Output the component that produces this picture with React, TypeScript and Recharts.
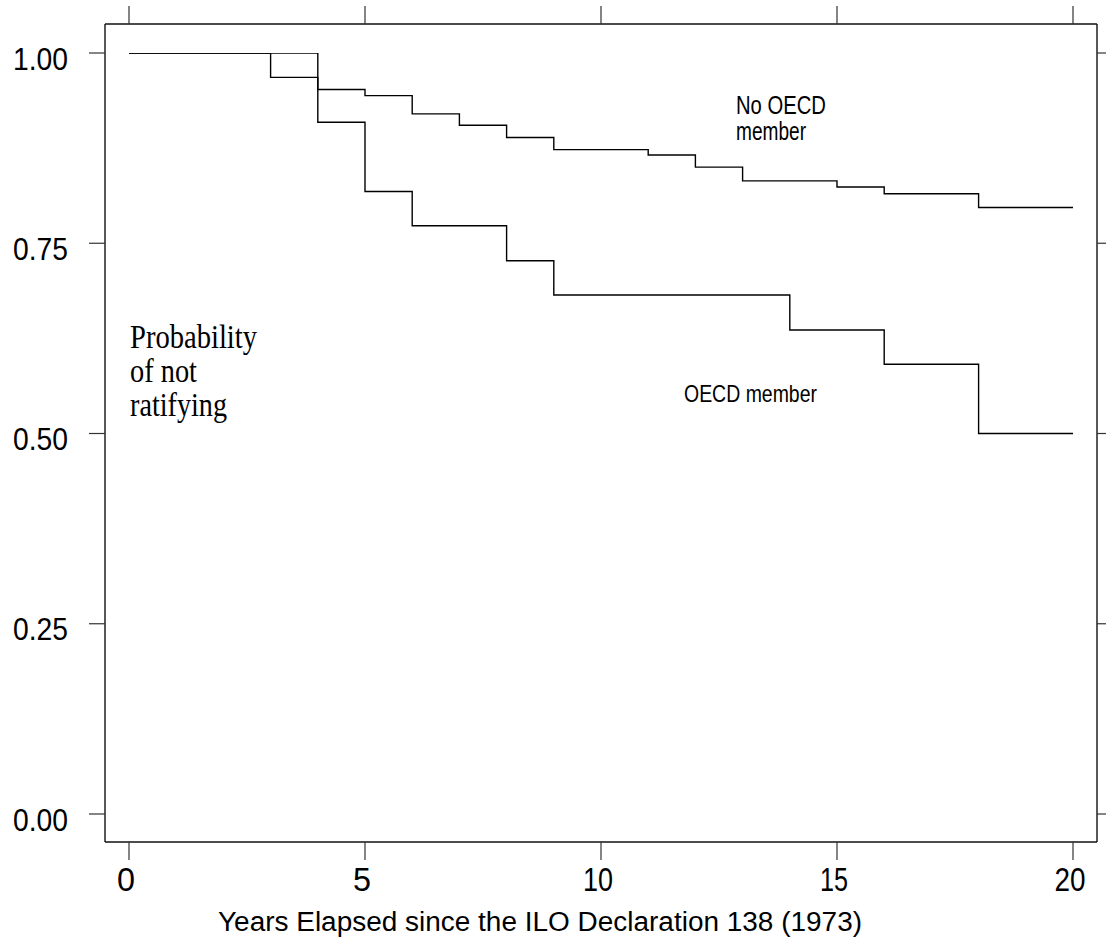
import React from 'react'
import { ComposedChart, Line, XAxis, YAxis, Customized } from 'recharts'

// Kaplan-Meier style survival steps
const noOecdYears = [0, 4, 5, 6, 7, 8, 9, 11, 12, 13, 15, 16, 18, 20]
const noOecdValues = [1, 0.952, 0.944, 0.92, 0.905, 0.889, 0.873, 0.866, 0.85, 0.832, 0.824, 0.815, 0.797, 0.797]

const oecdYears = [0, 3, 4, 5, 6, 8, 9, 14, 16, 18, 20]
const oecdValues = [1, 0.968, 0.909, 0.818, 0.773, 0.727, 0.682, 0.636, 0.591, 0.5, 0.5]

const xTicks = [0, 5, 10, 15, 20]
const yTicks = [0, 0.25, 0.5, 0.75, 1]
const yTickLabels = ['0.00', '0.25', '0.50', '0.75', '1.00']

const xTitle = 'Years Elapsed since the ILO Declaration 138 (1973)'
const yNote = ['Probability', 'of not', 'ratifying']

const noOecdData = noOecdYears.map((x, i) => ({ x, v: noOecdValues[i] }))
const oecdData = oecdYears.map((x, i) => ({ x, v: oecdValues[i] }))

const SANS = '"Liberation Sans", Arial, sans-serif'
const SERIF = '"Liberation Serif", "Times New Roman", serif'

const xLabelWidths: Record<number, number> = { 0: 18, 5: 18, 10: 30, 15: 28, 20: 31 }

const BottomTick = (props: any) => {
  const { x, y, payload } = props
  const w = xLabelWidths[payload.value] ?? 28
  return (
    <text x={x - 3} y={y + 31} textAnchor="middle" fontFamily={SANS} fontSize={33} fill="#000"
      textLength={w} lengthAdjust="spacingAndGlyphs">
      {payload.value}
    </text>
  )
}

const LeftTick = (props: any) => {
  const { x, y, payload } = props
  const idx = yTicks.indexOf(payload.value)
  return (
    <text x={x} y={y + 16.5} textAnchor="end" fontFamily={SANS} fontSize={32} fill="#000"
      textLength={55} lengthAdjust="spacingAndGlyphs">
      {yTickLabels[idx]}
    </text>
  )
}

const NoTick = () => <g />

const Notes = () => (
  <g fill="#000">
    <text x={218} y={931} fontFamily={SANS} fontSize={27} textLength={644} lengthAdjust="spacingAndGlyphs">{xTitle}</text>
    {yNote.map((t, i) => (
      <text key={t} x={130} y={348 + i * 34} fontFamily={SERIF} fontSize={33}
        textLength={[127, 67, 97][i]} lengthAdjust="spacingAndGlyphs">{t}</text>
    ))}
    <text x={736} y={114} fontFamily={SANS} fontSize={25} textLength={90} lengthAdjust="spacingAndGlyphs">No OECD</text>
    <text x={736} y={140} fontFamily={SANS} fontSize={25} textLength={70} lengthAdjust="spacingAndGlyphs">member</text>
    <text x={684} y={402} fontFamily={SANS} fontSize={24} textLength={133} lengthAdjust="spacingAndGlyphs">OECD member</text>
  </g>
)

export default function App() {
  const axisLine = { stroke: '#111', strokeWidth: 1.4 }
  const tickLine = { stroke: '#333', strokeWidth: 1.2 }
  return (
    <div style={{ position: 'absolute', left: 0, top: 0, background: '#fff' }}>
      <ComposedChart width={1106} height={951} margin={{ top: 0, right: 0, bottom: 0, left: 0 }}>
        <XAxis xAxisId="bottom" type="number" dataKey="x" domain={[0, 20]} ticks={xTicks}
          orientation="bottom" height={109} padding={{ left: 24, right: 24 }}
          axisLine={axisLine} tickLine={tickLine} tickSize={18} tickMargin={0} tick={<BottomTick />}
          allowDataOverflow />
        <XAxis xAxisId="top" type="number" dataKey="x" domain={[0, 20]} ticks={xTicks}
          orientation="top" height={24} padding={{ left: 24, right: 24 }}
          axisLine={axisLine} tickLine={tickLine} tickSize={18} tick={<NoTick />}
          allowDataOverflow />
        <YAxis yAxisId="left" type="number" domain={[0, 1]} ticks={yTicks} width={105}
          padding={{ top: 29, bottom: 28 }} axisLine={axisLine} tickLine={tickLine}
          tickSize={16} tickMargin={21} tick={<LeftTick />} allowDataOverflow />
        <YAxis yAxisId="right" orientation="right" type="number" domain={[0, 1]} ticks={yTicks} width={9}
          padding={{ top: 29, bottom: 28 }} axisLine={axisLine} tickLine={tickLine}
          tickSize={9} tick={<NoTick />} allowDataOverflow />
        <Line xAxisId="bottom" yAxisId="left" data={noOecdData} dataKey="v" type="stepAfter"
          stroke="#000" strokeWidth={1.4} dot={false} isAnimationActive={false} />
        <Line xAxisId="bottom" yAxisId="left" data={oecdData} dataKey="v" type="stepAfter"
          stroke="#000" strokeWidth={1.4} dot={false} isAnimationActive={false} />
        <Customized component={Notes} />
      </ComposedChart>
    </div>
  )
}
